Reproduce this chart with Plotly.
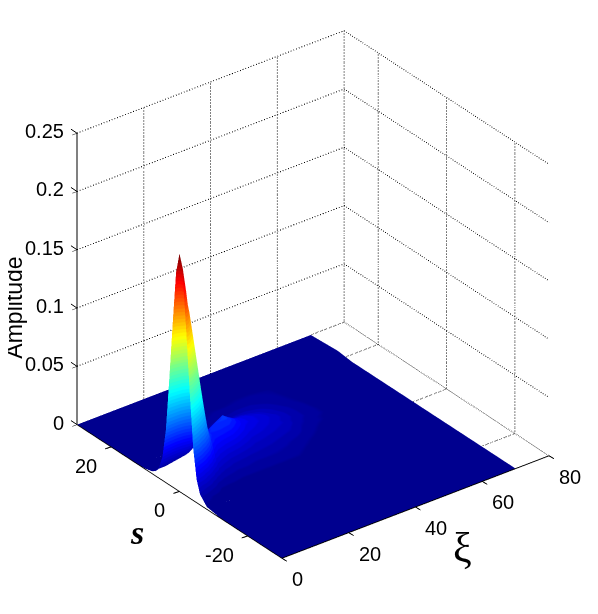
import plotly.graph_objects as go

# axis ticks
xi_ticks = [0, 20, 40, 60, 80]
s_ticks = [-20, 0, 20]
z_ticks = [0, 0.05, 0.1, 0.15, 0.2, 0.25]
z_tick_text = ['0', '0.05', '0.1', '0.15', '0.2', '0.25']
xi_range = [0, 80]
s_range = [-30, 30]
z_range = [0, 0.25]

# surface
s_vals = [-30, -12, -8, -6, -5, -4, -3, -2, -1, 0, 1, 2, 3, 4, 5, 6, 7, 8, 10, 12, 15, 18, 22, 30]
xi_vals = [0, 1, 2, 3, 4, 6, 8, 10, 12, 15, 18, 21, 24, 28, 32, 36, 40, 45, 50, 60, 70]
amp = [
    [0, 0, .002, .009, .02, .045, .09, .14, .186, .204, .186, .14, .09, .045, .02, .009, .004, .002, .0005, 0, 0, 0, 0, 0],
    [0, 0, .001, .006, .015, .037, .08, .13, .172, .19, .18, .142, .095, .05, .023, .01, .005, .002, .0005, 0, 0, 0, 0, 0],
    [0, 0, .001, .005, .012, .03, .065, .108, .148, .165, .16, .13, .09, .05, .025, .011, .005, .002, .0005, 0, 0, 0, 0, 0],
    [0, 0, .001, .004, .01, .024, .052, .092, .132, .15, .147, .122, .086, .05, .026, .012, .005, .002, .0005, 0, 0, 0, 0, 0],
    [0, 0, .0005, .003, .008, .018, .04, .074, .112, .13, .132, .112, .082, .05, .027, .013, .006, .002, .0005, 0, 0, 0, 0, 0],
    [0, 0, 0, .002, .005, .01, .022, .044, .072, .09, .095, .088, .068, .045, .026, .014, .007, .003, .001, 0, 0, 0, 0, 0],
    [0, 0, 0, .001, .002, .005, .011, .022, .038, .05, .058, .06, .052, .036, .023, .014, .008, .004, .001, 0, 0, 0, 0, 0],
    [0, 0, .0002, .001, .002, .004, .007, .012, .019, .028, .034, .037, .036, .031, .023, .015, .009, .005, .0015, .0005, 0, 0, 0, 0],
    [0, 0, .0001, .0008, .0015, .004, .006, .009, .014, .02, .027, .031, .032, .03, .025, .019, .013, .008, .003, .001, .0002, 0, 0, 0],
    [0, 0, 0, .0005, .001, .003, .005, .007, .01, .015, .022, .029, .034, .035, .031, .025, .019, .014, .006, .003, .001, .0003, 0, 0],
    [0, 0, 0, .0003, .001, .003, .005, .007, .009, .013, .019, .026, .032, .036, .036, .031, .025, .019, .009, .005, .002, .0008, 0, 0],
    [0, 0, 0, .0003, .001, .003, .0045, .006, .008, .011, .015, .02, .025, .029, .03, .029, .026, .022, .012, .007, .003, .0015, .0003, 0],
    [0, 0, 0, .0003, .001, .003, .0045, .006, .008, .01, .012, .015, .019, .022, .024, .024, .023, .021, .014, .009, .004, .002, .0005, 0],
    [0, 0, 0, .0003, .001, .003, .0045, .006, .007, .009, .011, .013, .016, .018, .02, .02, .02, .019, .015, .01, .005, .003, .001, 0],
    [0, 0, 0, .0002, .0008, .003, .004, .005, .006, .007, .009, .011, .013, .015, .016, .017, .017, .016, .013, .01, .006, .003, .001, 0],
    [0, 0, 0, 0, .0003, .0015, .002, .003, .004, .005, .007, .009, .01, .012, .012, .013, .013, .012, .011, .009, .006, .0035, .001, 0],
    [0, 0, 0, 0, 0, .0005, .001, .0015, .002, .003, .004, .005, .006, .007, .008, .009, .009, .009, .008, .007, .005, .0035, .001, 0],
    [0, 0, 0, 0, 0, 0, 0, .0003, .0006, .001, .0015, .002, .003, .004, .004, .005, .005, .005, .005, .004, .0035, .003, .0007, 0],
    [0, 0, 0, 0, 0, 0, 0, 0, 0, .0002, .0004, .0007, .001, .0015, .002, .0025, .0025, .0025, .002, .002, .0015, .001, .0002, 0],
    [0, 0, 0, 0, 0, 0, 0, 0, 0, 0, 0, 0, 0, 0, 0, 0, 0, 0, 0, 0, 0, 0, 0, 0],
    [0, 0, 0, 0, 0, 0, 0, 0, 0, 0, 0, 0, 0, 0, 0, 0, 0, 0, 0, 0, 0, 0, .0015, 0],
]

# matlab jet stops, stepped to 64 levels like the default colormap
jet_pos = [0, 0.125, 0.375, 0.625, 0.875, 1]
jet_rgb = [(0, 0, 143), (0, 0, 255), (0, 255, 255), (255, 255, 0), (255, 0, 0), (128, 0, 0)]


def jet_colour(t):
    for i in range(len(jet_pos) - 1):
        if t <= jet_pos[i + 1]:
            f = (t - jet_pos[i]) / (jet_pos[i + 1] - jet_pos[i])
            c = [round(a + (b - a) * f) for a, b in zip(jet_rgb[i], jet_rgb[i + 1])]
            return f'rgb({c[0]},{c[1]},{c[2]})'
    return 'rgb(128,0,0)'


levels = 64
jet = []
for n in range(levels):
    c = jet_colour(n / (levels - 1))
    jet.append([n / levels, c])
    jet.append([(n + 1) / levels, c])

fig = go.Figure()


def add_line(xs, ys, zs, dash='dot', width=2):
    fig.add_trace(go.Scatter3d(x=xs, y=ys, z=zs, mode='lines', showlegend=False, hoverinfo='skip',
                               line=dict(color='black', width=width, dash=dash)))


xi_lo, xi_hi = xi_range
s_lo, s_hi = s_range
z_lo, z_hi = z_range
xi_end = xi_vals[-1]

# dotted grid on the back walls, floor only shows past the end of the surface
for t in xi_ticks[1:]:
    add_line([t, t], [s_hi, s_hi], [z_lo, z_hi])
for t in s_ticks:
    add_line([xi_hi, xi_hi], [t, t], [z_lo, z_hi])
    add_line([xi_end, xi_hi], [t, t], [z_lo, z_lo])
for t in z_ticks[1:]:
    add_line([xi_lo, xi_hi, xi_hi], [s_hi, s_hi, s_lo], [t, t, t])
add_line([xi_hi, xi_hi], [s_lo, s_hi], [z_lo, z_lo])
add_line([xi_end, xi_hi], [s_hi, s_hi], [z_lo, z_lo])

# tiny lift keeps the flat floor away from the z=0 plane
floor_lift = 0.00002
fig.add_trace(go.Surface(
    x=xi_vals, y=s_vals, z=[[v + floor_lift for v in col] for col in zip(*amp)],
    colorscale=jet, cmin=0, cmax=0.204, showscale=False,
    lighting=dict(ambient=1, diffuse=0, specular=0, roughness=1, fresnel=0),
    contours=dict(x=dict(show=False, highlight=False), y=dict(show=False, highlight=False),
                  z=dict(show=False, highlight=False)),
))

tick_font = dict(family='Liberation Sans', size=20, color='black')
# arrow only draws outside the text box, so the box has to be tiny
tick_mark = dict(text=' ', showarrow=True, arrowhead=0, arrowwidth=1, arrowcolor='black', standoff=0,
                 borderpad=0, borderwidth=0, font=dict(size=1))

scene_notes = []
for t, label in zip(z_ticks, z_tick_text):
    scene_notes.append(dict(x=xi_lo, y=s_hi, z=t, text=label, showarrow=False, font=tick_font,
                            xanchor='right', yanchor='middle', xshift=-11, yshift=2))
    scene_notes.append(dict(x=xi_lo, y=s_hi, z=t, ax=-6, ay=-4, **tick_mark))
for t in s_ticks:
    scene_notes.append(dict(x=xi_lo, y=t, z=z_lo, text=str(t), showarrow=False, font=tick_font,
                            xanchor='right', yanchor='middle', xshift=-12, yshift=-19))
    scene_notes.append(dict(x=xi_lo, y=t, z=z_lo, ax=-6, ay=2, **tick_mark))
for t in xi_ticks:
    scene_notes.append(dict(x=t, y=s_lo, z=z_lo, text=str(t), showarrow=False, font=tick_font,
                            xanchor='left', yanchor='middle', xshift=8, yshift=-21))
    scene_notes.append(dict(x=t, y=s_lo, z=z_lo, ax=5, ay=3, **tick_mark))

axis_style = dict(
    showgrid=False, zeroline=False, showbackground=False, showspikes=False,
    showline=True, linecolor='black', linewidth=2, showticklabels=False,
    ticks='outside', tickcolor='black', ticklen=6, tickwidth=1,
    title=dict(text=''),
)

fig.update_layout(
    width=598, height=614,
    margin=dict(l=0, r=0, t=0, b=0),
    paper_bgcolor='white',
    scene=dict(
        domain=dict(x=[0.02, 1], y=[0.067, 1]),
        xaxis=dict(range=xi_range, tickvals=xi_ticks, **axis_style),
        yaxis=dict(range=s_range, tickvals=s_ticks, **axis_style),
        zaxis=dict(range=z_range, tickvals=z_ticks, **axis_style),
        aspectmode='manual',
        aspectratio=dict(x=1.175, y=1.175, z=1.175),
        camera=dict(
            eye=dict(x=-0.79, y=-1.03, z=0.75),
            up=dict(x=0, y=0, z=1),
            projection=dict(type='orthographic'),
        ),
        annotations=scene_notes,
    ),
    annotations=[
        dict(text='Amplitude', x=0, y=0.512, xref='paper', yref='paper', showarrow=False, textangle=-90,
             xanchor='left', yanchor='middle', xshift=-9,
             font=dict(family='Liberation Sans', size=23, color='black')),
        dict(text='ξ', x=0.76, y=0.12, xref='paper', yref='paper', showarrow=False,
             xanchor='center', yanchor='middle',
             font=dict(family='Liberation Serif', size=42, color='black')),
        dict(text='<b><i>s</i></b>', x=0.216, y=0.146, xref='paper', yref='paper', showarrow=False,
             xanchor='center', yanchor='middle',
             font=dict(family='Liberation Serif', size=34, color='black')),
    ],
)

fig.write_html("out.html")
